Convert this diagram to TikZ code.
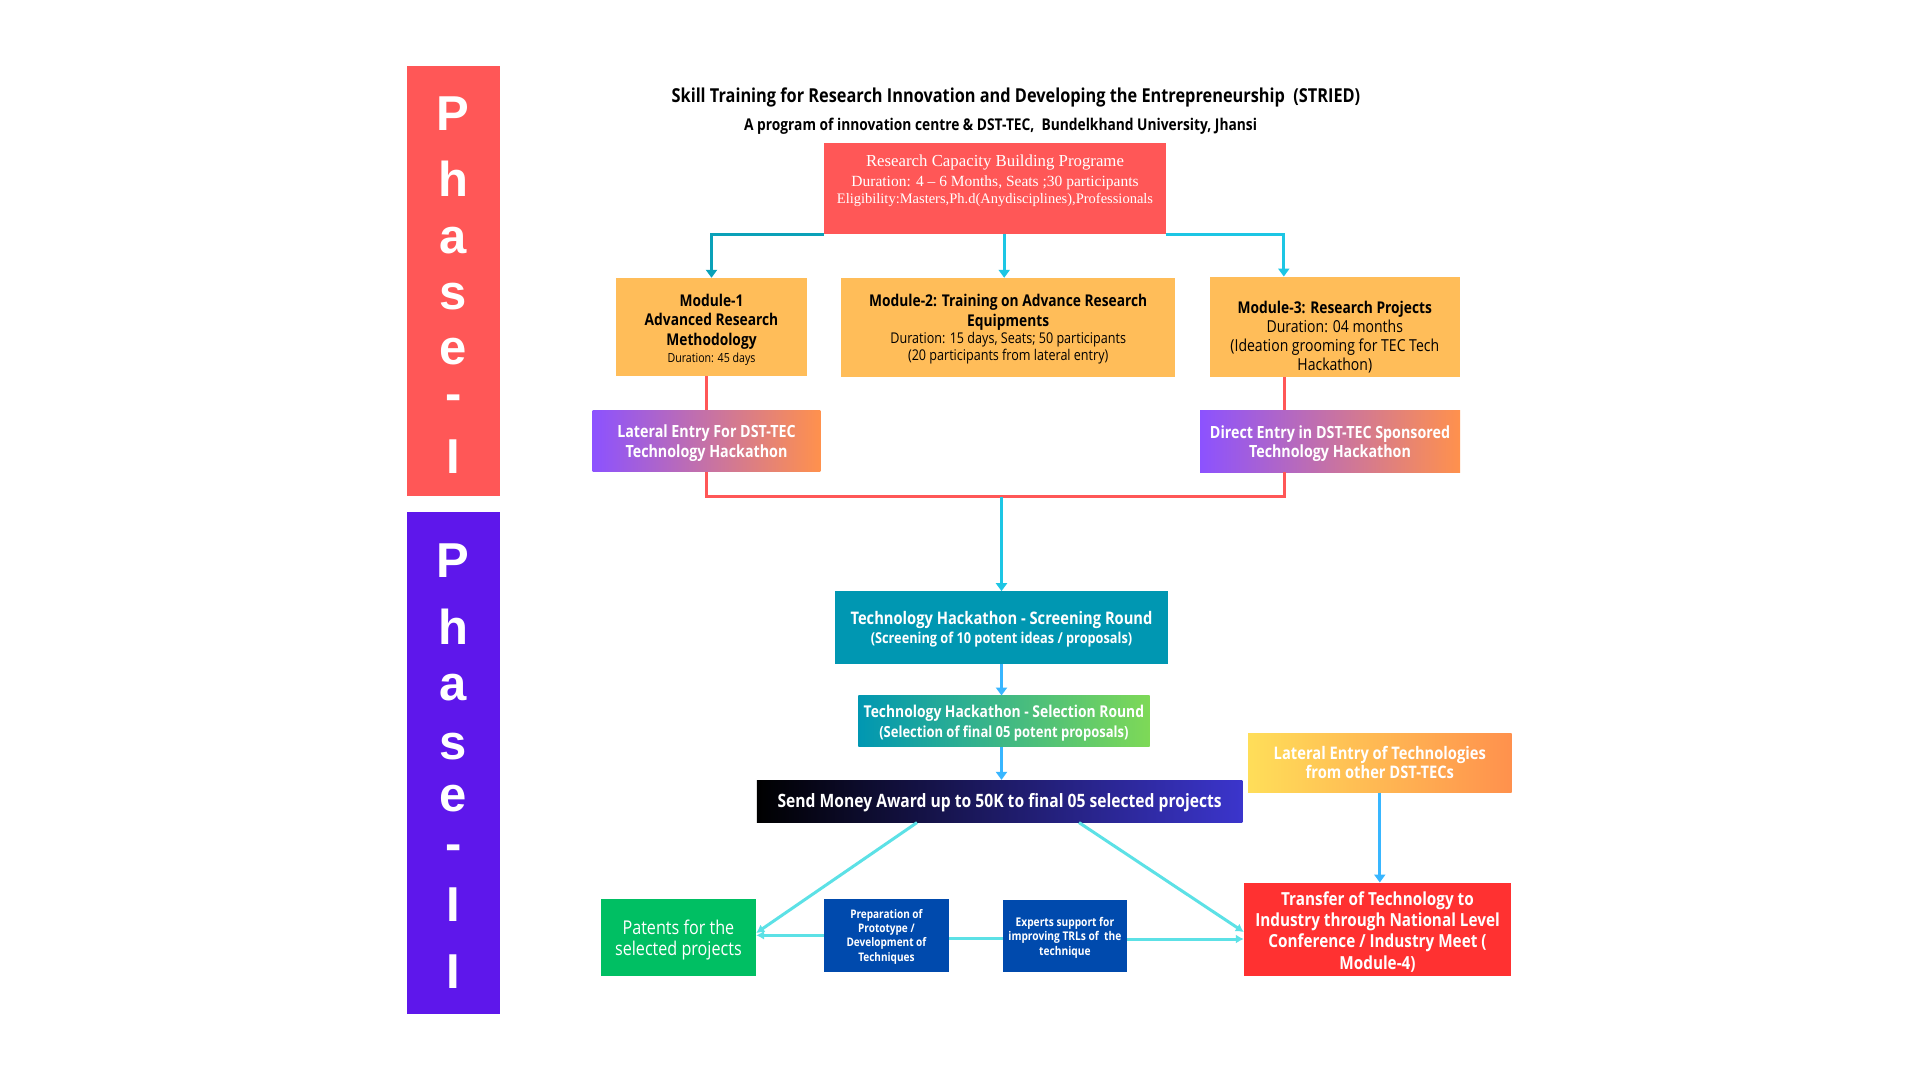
\documentclass[tikz,border=0pt]{standalone}
\usepackage{fontspec}
\setmainfont{Open Sans}
\newfontfamily\cf[FakeStretch=0.85]{Open Sans}
\newfontfamily\phasefont{Liberation Sans}
\newfontfamily\serf{Liberation Serif}
\usetikzlibrary{arrows.meta}
\definecolor{phred}{HTML}{FF5757}
\definecolor{phpurple}{HTML}{5E17EB}
\definecolor{modorange}{HTML}{FFBD59}
\definecolor{gpurple}{HTML}{8C52FF}
\definecolor{gorange}{HTML}{FF914D}
\definecolor{cteal}{HTML}{0097B2}
\definecolor{cgreen}{HTML}{7ED957}
\definecolor{cyellow}{HTML}{FFDE59}
\definecolor{cblue}{HTML}{3B35CC}
\definecolor{tred}{HTML}{FF3131}
\definecolor{pgreen}{HTML}{00BF63}
\definecolor{dblue}{HTML}{004AAD}
\definecolor{lcyan}{HTML}{5CE1E6}
\definecolor{skyb}{HTML}{38B6FF}
\definecolor{ltteal}{HTML}{0AA1B8}
\definecolor{brcyan}{HTML}{1DC6E4}
\definecolor{redline}{HTML}{FF5757}
\newcommand{\fs}[2]{\fontsize{#1}{#2}\selectfont}
\newcommand{\up}[1]{\rule{0pt}{#1}}
\begin{document}
\begin{tikzpicture}[x=1pt,y=-1pt,
  bar/.style={inner sep=0pt, draw=none},
  phl/.style={inner sep=0pt, text=white, font=\phasefont\bfseries\fontsize{49}{49}\selectfont},
  ttl/.style={inner sep=0pt, align=center, text=black},
  box/.style={inner sep=0pt, align=center, text=white},
  modbox/.style={box, fill=modorange, text=black},
  ctop/.style={line width=3pt, -{Triangle[length=8pt,width=11pt]}},
  redl/.style={line width=3pt, draw=redline},
  vcy/.style={line width=3pt, -{Triangle[length=8pt,width=11pt]}},
  diag/.style={line width=3pt, draw=lcyan, -{Latex[length=8pt,width=9pt]}},
  hl/.style={line width=3pt, draw=lcyan}
]
\useasboundingbox (0,0) rectangle (1920,1080);
\fill[white] (0,0) rectangle (1920,1080);

% phase bars
\node[bar, fill=phred, minimum width=93.3pt, minimum height=430pt] (ph1) at (453.3,281) {};
\node[bar, fill=phpurple, minimum width=93.3pt, minimum height=502pt] (ph2) at (453.3,763) {};
\foreach \l/\b [count=\i] in {P/130.2,h/196.3,a/253.3,s/309.6,e/364.7,-/410,I/473}
  \node[phl, anchor=base] (pa\i) at (453.3,\b) {\l};
\foreach \l/\b [count=\i] in {P/577,h/644.5,a/700,s/759,e/811,-/860,I/921,I/988.5}
  \node[phl, anchor=base] (pb\i) at (453.3,\b) {\l};

% titles
\node[ttl, font=\cf\bfseries\fs{19.2}{22}] (t1) at (1016,97.5)
  {Skill Training for Research Innovation and Developing the Entrepreneurship\ \ (STRIED)};
\node[ttl, font=\cf\bfseries\fs{16.2}{19}] (t2) at (1000.6,126)
  {A program of innovation centre \& DST-TEC,\ \ Bundelkhand University, Jhansi};

% research capacity box
\node[bar, fill=phred, minimum width=342pt, minimum height=90.6pt] (rcb) at (995,188.6) {};
\node[box, font=\serf\fs{16.8}{20.5}] (rcbt) at (995,180.7)
  {Research Capacity Building Programe\\
   \fs{15.5}{19}Duration: 4 – 6 Months, Seats ;30 participants\\[-3.5pt]
   \fs{14.5}{17}Eligibility:Masters,Ph.d(Anydisciplines),Professionals};

% modules
\node[modbox, font=\cf\bfseries\fs{16.2}{19.6}, minimum width=191pt, minimum height=98pt] (m1) at (711.5,327)
  {\up{17.3pt}Module-1\\Advanced Research\\Methodology\\[-3pt]
   \mdseries\fs{12.5}{16}Duration: 45 days};
\node[modbox, font=\cf\bfseries\fs{16.2}{19.4}, minimum width=334.5pt, minimum height=99pt] (m2) at (1008.2,327.5)
  {\up{16.1pt}Module-2: Training on Advance Research\\Equipments\\[-2pt]
   \mdseries\fs{14.8}{17.5}Duration: 15 days, Seats; 50 participants\\[-2pt]
   \mdseries\fs{14.8}{17.5}(20 participants from lateral entry)};
\node[bar, fill=modorange, minimum width=249.6pt, minimum height=100.3pt] (m3) at (1334.8,326.9) {};
\node[box, text=black, font=\cf\mdseries\fs{16.5}{19}] (m3t) at (1334.8,337.3)
  {\bfseries\fs{16.2}{19}Module-3: Research Projects\\
   Duration: 04 months\\(Ideation grooming for TEC Tech\\Hackathon)};

% entry boxes
\node[box, font=\cf\bfseries\fs{16.8}{19.6}, left color=gpurple, right color=gorange, minimum width=227.7pt, minimum height=61.4pt] (lat) at (706.5,440.7)
  {\up{17.7pt}Lateral Entry For DST-TEC\\Technology Hackathon};
\node[box, font=\cf\bfseries\fs{16.8}{19.6}, left color=gpurple, right color=gorange, minimum width=260pt, minimum height=62pt] (dir) at (1330,441)
  {\up{17.7pt}Direct Entry in DST-TEC Sponsored\\Technology Hackathon};

% hackathon
\node[box, font=\cf\bfseries\fs{17.3}{18.5}, fill=cteal, minimum width=333pt, minimum height=72.3pt] (scr) at (1001.5,627.5)
  {\up{16.9pt}Technology Hackathon - Screening Round\\
   \fs{15}{18.5}(Screening of 10 potent ideas / proposals)};
\node[box, font=\cf\bfseries\fs{16.3}{19.4}, left color=cteal, right color=cgreen, minimum width=291.2pt, minimum height=51pt] (sel) at (1003.9,721.2)
  {\up{16.2pt}Technology Hackathon - Selection Round\\
   \fs{15.3}{19.4}(Selection of final 05 potent proposals)};
\node[box, font=\cf\bfseries\fs{18.4}{21}, left color=black, right color=cblue, minimum width=485.6pt, minimum height=42.3pt] (money) at (999.6,801.2)
  {\up{16.6pt}Send Money Award up to 50K to final 05 selected projects};
\node[box, font=\cf\bfseries\fs{17.3}{19.3}, left color=cyellow, right color=gorange, minimum width=263.6pt, minimum height=59pt] (lt) at (1379.8,762.8)
  {Lateral Entry of Technologies\\from other DST-TECs};

% bottom row
\node[box, font=\cf\bfseries\fs{18}{21.3}, fill=tred, minimum width=267pt, minimum height=93pt] (tr) at (1377.5,929.2)
  {\up{18.7pt}Transfer of Technology to\\Industry through National Level\\Conference / Industry Meet (\\Module-4)};
\node[box, font=\cf\fs{19}{20.7}, fill=pgreen, minimum width=155.2pt, minimum height=76.7pt] (pat) at (678.4,937.3)
  {\up{19.4pt}Patents for the\\selected projects};
\node[box, font=\cf\bfseries\fs{11.8}{14.3}, fill=dblue, minimum width=124.8pt, minimum height=72.7pt] (proto) at (886.4,935.3)
  {\up{11.5pt}Preparation of\\Prototype /\\Development of\\Techniques};
\node[box, font=\cf\bfseries\fs{12}{14.3}, fill=dblue, minimum width=124.2pt, minimum height=71.4pt] (exp) at (1064.9,936)
  {\up{12.8pt}Experts support for\\improving TRLs of\ \ the\\technique};

% connectors top
\coordinate (mm) at ([xshift=-4pt]m2.north);
\draw[ctop, draw=ltteal] (rcb.south west) -| (m1.north);
\draw[ctop, draw=brcyan] (rcb.south east) -| ([xshift=74pt]m3.north west);
\draw[ctop, draw=brcyan] (rcb.south -| mm) -- (mm);

% red connectors
\coordinate (jn) at (1001.5,496.5);
\draw[redl] (m1.south -| lat.north) -- (lat.north);
\draw[redl] (lat.south) |- (jn) -| ([xshift=85pt]dir.south west);
\draw[redl] ([xshift=75pt]m3.south west) -- ([xshift=75pt]m3.south west |- dir.north);

% vertical flow
\draw[vcy, draw=brcyan] (jn) -- (scr.north);
\draw[vcy, draw=skyb] (scr.south) -- (scr.south |- sel.north);
\draw[vcy, draw=skyb] (sel.south -| scr.south) -- (money.north -| scr.south);
\draw[vcy, draw=skyb] (lt.south) -- (lt.south |- tr.north);

% bottom connectors
\draw[diag] ([xshift=-82.6pt]money.south) -- ([yshift=4.3pt]pat.east);
\draw[diag] ([xshift=79.4pt]money.south) -- ([yshift=-2.8pt]tr.west);
\draw[diag] (proto.west) -- (proto.west -| pat.east);
\draw[hl] ([yshift=-3pt]proto.east) -- ([yshift=-3pt]proto.east -| exp.west);
\draw[diag] ([yshift=-3pt]exp.east) -- ([yshift=-3pt]exp.east -| tr.west);
\end{tikzpicture}
\end{document}
